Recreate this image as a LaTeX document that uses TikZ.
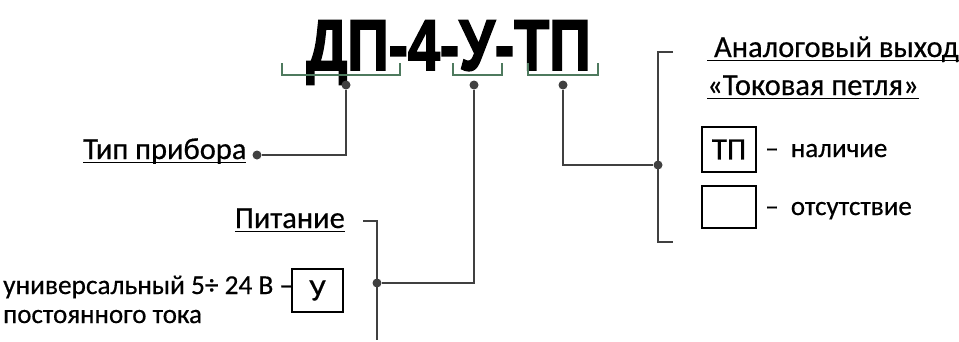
\documentclass[tikz,border=0pt]{standalone}
\usepackage{fontspec}
\setmainfont[FakeBold=0.5]{Carlito}
\newfontfamily\titlefont[FakeBold=2.5]{Liberation Sans Bold}
\newcommand\myul[1]{\setbox0\hbox{#1}\rlap{\rule[-4pt]{\wd0}{1.5pt}}\box0}
\definecolor{lgrey}{HTML}{404040}
\definecolor{bgreen}{HTML}{4E7A5E}
\begin{document}
\begin{tikzpicture}[x=1pt,y=-1pt,
  conn/.style={draw=lgrey,line width=1.5pt},
  brk/.style={draw=bgreen,line width=1.1pt},
  dotc/.style={circle,fill=lgrey,inner sep=0pt,minimum size=9pt},
  hdr/.style={inner sep=0pt,font=\fontsize{30.5}{34}\selectfont},
  lbl/.style={inner sep=0pt,font=\fontsize{27}{30}\selectfont},
  codebox/.style={draw=black,line width=1.3pt,inner sep=0pt,font=\fontsize{31}{34}\selectfont}
]
\useasboundingbox (0,0) rectangle (959,341);
% title
\node[inner sep=0pt,anchor=base] (title) at (448.5,70)
  {\scalebox{0.80}[1]{\titlefont\fontsize{72}{76}\selectfont ДП-4-У-ТП}};
% brackets
\draw[brk] (282,63) -- (282,75) -- (400,75) -- (400,63);
\draw[brk] (453,63) -- (453,75) -- (502,75) -- (502,63);
\draw[brk] (528,63) -- (528,75) -- (598,75) -- (598,63);
% dots
\node[dotc] (d1) at (346,85) {};
\node[dotc] (d2) at (474,85) {};
\node[dotc] (d3) at (563,85) {};
% type
\node[hdr,anchor=base west] (tip) at (83,159) {\myul{Тип прибора}};
\node[dotc] (dtip) at (257,155) {};
\draw[conn] (d1) |- (dtip);
% power
\node[hdr,anchor=base east] (pit) at (345,228) {\myul{Питание}};
\coordinate (ptop0) at (363,221);
\coordinate (ptop) at (377,221);
\coordinate (pbot) at (377,340);
\draw[conn] (ptop0) -- (ptop) -- (pbot);
\node[dotc] (dp) at (377,283) {};
\draw[conn] (d2) |- (dp);
\node[codebox,minimum width=51pt,minimum height=43pt] (boxU) at (317.5,290.5) {У};
\node[lbl,anchor=base west,font=\fontsize{27.3}{30}\selectfont] (univ) at (3,294) {универсальный 5÷ 24 В –};
\node[lbl,anchor=base west] (post) at (3,323) {постоянного тока};
% analog output
\coordinate (rtop0) at (673,52);
\coordinate (rtop) at (658,52);
\coordinate (rbot) at (658,242);
\coordinate (rbot0) at (673,242);
\draw[conn] (rtop0) -- (rtop) -- (rbot) -- (rbot0);
\node[dotc] (dr) at (658,165) {};
\draw[conn] (d3) |- (dr);
\node[hdr,anchor=base west] (an1) at (707,57) {\myul{\ Аналоговый выход}};
\node[hdr,anchor=base west] (an2) at (707,95) {\myul{«Токовая петля»}};
\node[codebox,minimum width=54pt,minimum height=45pt] (boxTP) at (729,149.5) {ТП};
\node[codebox,minimum width=54pt,minimum height=42pt] (boxE) at (729,207) {};
\node[lbl,anchor=base west] (nal) at (765,157) {–\ \ наличие};
\node[lbl,anchor=base west] (ots) at (765,215) {–\ \ отсутствие};
\end{tikzpicture}
\end{document}
